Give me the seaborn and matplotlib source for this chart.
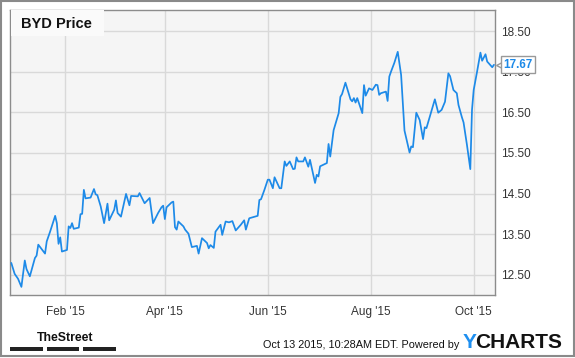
import matplotlib
matplotlib.use("Agg")
import matplotlib.pyplot as plt
import matplotlib.patches as mpatches
import matplotlib.ticker as mticker
import pandas as pd
import seaborn as sns

# ---------------- data ----------------
dates = [
    "2014-12-31", "2015-01-02", "2015-01-04", "2015-01-06", "2015-01-08", "2015-01-09",
    "2015-01-11", "2015-01-14", "2015-01-15", "2015-01-16", "2015-01-18", "2015-01-20",
    "2015-01-21", "2015-01-23", "2015-01-26", "2015-01-27", "2015-01-28", "2015-01-29",
    "2015-01-30", "2015-02-02", "2015-02-03", "2015-02-04", "2015-02-05", "2015-02-06",
    "2015-02-09", "2015-02-10", "2015-02-11", "2015-02-12", "2015-02-13", "2015-02-16",
    "2015-02-18", "2015-02-19", "2015-02-20", "2015-02-22", "2015-02-24", "2015-02-26",
    "2015-02-27", "2015-03-02", "2015-03-03", "2015-03-04", "2015-03-06", "2015-03-09",
    "2015-03-11", "2015-03-12", "2015-03-16", "2015-03-17", "2015-03-20", "2015-03-23",
    "2015-03-25", "2015-03-28", "2015-03-30", "2015-03-31", "2015-04-01", "2015-04-02",
    "2015-04-05", "2015-04-06", "2015-04-07", "2015-04-08", "2015-04-09", "2015-04-12",
    "2015-04-13", "2015-04-14", "2015-04-15", "2015-04-17", "2015-04-20", "2015-04-21",
    "2015-04-23", "2015-04-26", "2015-04-27", "2015-04-28", "2015-04-30", "2015-05-01",
    "2015-05-04", "2015-05-05", "2015-05-07", "2015-05-09", "2015-05-11", "2015-05-13",
    "2015-05-16", "2015-05-18", "2015-05-19", "2015-05-21", "2015-05-26", "2015-05-27",
    "2015-05-28", "2015-05-30", "2015-06-01", "2015-06-02", "2015-06-04", "2015-06-05",
    "2015-06-08", "2015-06-09", "2015-06-11", "2015-06-12", "2015-06-14", "2015-06-16",
    "2015-06-17", "2015-06-18", "2015-06-19", "2015-06-22", "2015-06-23", "2015-06-25",
    "2015-06-26", "2015-06-29", "2015-06-30", "2015-07-01", "2015-07-02", "2015-07-06",
    "2015-07-07", "2015-07-08", "2015-07-10", "2015-07-13", "2015-07-14", "2015-07-15",
    "2015-07-17", "2015-07-20", "2015-07-21", "2015-07-22", "2015-07-23", "2015-07-24",
    "2015-07-27", "2015-07-28", "2015-07-29", "2015-07-31", "2015-08-02", "2015-08-04",
    "2015-08-05", "2015-08-06", "2015-08-07", "2015-08-10", "2015-08-11", "2015-08-12",
    "2015-08-13", "2015-08-15", "2015-08-17", "2015-08-19", "2015-08-21", "2015-08-24",
    "2015-08-25", "2015-08-26", "2015-08-28", "2015-08-30", "2015-09-01", "2015-09-02",
    "2015-09-03", "2015-09-08", "2015-09-10", "2015-09-12", "2015-09-14", "2015-09-16",
    "2015-09-17", "2015-09-19", "2015-09-21", "2015-09-22", "2015-09-24", "2015-09-25",
    "2015-09-27", "2015-09-29", "2015-09-30", "2015-10-01", "2015-10-03", "2015-10-05",
    "2015-10-06", "2015-10-08", "2015-10-09", "2015-10-12", "2015-10-13",
]
prices = [
    12.79, 12.52, 12.40, 12.20, 12.85, 12.64,
    12.46, 12.91, 12.97, 13.24, 13.13, 13.02,
    13.32, 13.56, 13.95, 13.77, 13.26, 13.42,
    13.07, 13.11, 13.69, 13.65, 13.77, 13.63,
    13.66, 13.99, 14.00, 14.59, 14.38, 14.40,
    14.61, 14.48, 14.46, 14.18, 13.77, 14.25,
    13.84, 14.10, 14.33, 14.02, 13.93, 14.49,
    14.21, 14.44, 14.43, 14.51, 14.26, 14.39,
    13.77, 14.02, 14.16, 14.20, 13.87, 14.16,
    14.28, 14.30, 13.67, 13.61, 13.81, 13.69,
    13.61, 13.56, 13.51, 13.18, 13.21, 13.02,
    13.40, 13.28, 13.15, 13.23, 13.16, 13.56,
    13.73, 13.48, 13.81, 13.79, 13.82, 13.59,
    13.73, 13.84, 13.61, 13.89, 13.95, 14.34,
    14.36, 14.59, 14.84, 14.84, 14.63, 14.90,
    14.63, 14.63, 15.29, 15.18, 15.29, 15.10,
    15.11, 15.39, 15.29, 15.29, 15.39, 15.16,
    15.33, 14.76, 14.96, 14.92, 15.17, 15.25,
    15.72, 15.41, 16.06, 16.48, 16.88, 16.95,
    17.23, 16.82, 16.77, 16.85, 16.74, 16.85,
    16.48, 17.17, 16.91, 17.09, 17.05, 17.18,
    17.17, 16.93, 16.97, 17.01, 16.78, 17.38,
    17.50, 17.72, 17.99, 17.42, 16.05, 15.51,
    15.66, 15.64, 16.49, 16.31, 15.84, 16.13,
    16.11, 16.82, 16.49, 16.56, 16.76, 17.46,
    17.39, 17.05, 16.97, 16.68, 16.38, 16.25,
    15.70, 15.10, 16.56, 17.05, 17.50, 17.97,
    17.77, 17.93, 17.75, 17.61, 17.67,
]
ytick_values = [12.5, 13.5, 14.5, 15.5, 16.5, 17.5, 18.5]
xtick_dates = ["2015-02-01", "2015-04-01", "2015-06-01", "2015-08-01", "2015-10-01"]
xtick_labels = ["Feb '15", "Apr '15", "Jun '15", "Aug '15", "Oct '15"]
title = "BYD Price"
last_label = "17.67"
footer_text = "Oct 13 2015, 10:28AM EDT. Powered by"

# ---------------- style ----------------
sns.set_style("whitegrid")
plt.rcParams["font.family"] = ["Liberation Sans", "DejaVu Sans"]

LINE = "#1d8ae8"
GRID = "#d9d9d9"
SPINE = "#8c8c8c"
TXT = "#333333"

W, H = 575, 358
fig = plt.figure(figsize=(W / 100, H / 100), dpi=100)
fig.patch.set_facecolor("white")

def fx(px):
    return px / W

def fy(py):
    return 1 - py / H

L, R, T, B = 10.3, 494.5, 10.0, 295.0
ax = fig.add_axes([fx(L), fy(B), fx(R - L), (B - T) / H])
ax.set_facecolor("#f5f5f5")

df = pd.DataFrame({"date": pd.to_datetime(dates), "price": prices})
sns.lineplot(data=df, x="date", y="price", ax=ax, color=LINE, linewidth=1.25, zorder=3)

ax.set_xlim(pd.Timestamp("2014-12-30 10:00"), pd.Timestamp("2015-10-13 08:00"))
ax.set_ylim(12.0, 19.02)

ax.yaxis.tick_right()
ax.set_yticks(ytick_values)
ax.yaxis.set_major_formatter(mticker.FormatStrFormatter("%.2f"))
ax.set_xticks(pd.to_datetime(xtick_dates))
ax.set_xticklabels(xtick_labels)
ax.tick_params(axis="both", length=0, labelsize=8.5, labelcolor=TXT)
ax.tick_params(axis="x", pad=8)
ax.tick_params(axis="y", pad=4.5)
ax.set_xlabel("")
ax.set_ylabel("")
ax.grid(True, color=GRID, linewidth=1.0)
for s in ax.spines.values():
    s.set_visible(True)
    s.set_color(SPINE)
    s.set_linewidth(1.0)

# title box
fig.patches.append(mpatches.Rectangle((fx(L + 0.5), fy(36)), (103 - L) / W, 26 / H,
                                      transform=fig.transFigure, facecolor="#fafafa",
                                      edgecolor="none", zorder=5))
fig.text(fx(21.3), fy(28.3), title, fontsize=10.5, fontweight="bold", color="#111111",
         va="baseline", ha="left", zorder=6)

# last value callout (covers the 17.50 tick label, as in the original)
last_date = df["date"].iloc[-1]
last_price = df["price"].iloc[-1]
ax.plot([last_date], [last_price], marker="<", markersize=7, markerfacecolor="white",
        markeredgecolor="#999999", markeredgewidth=1.0, clip_on=False, zorder=8,
        transform=ax.transData + matplotlib.transforms.ScaledTranslation(5 / 72, 0, fig.dpi_scale_trans))
ax.annotate(last_label, xy=(last_date, last_price), xytext=(6.6, 0), textcoords="offset points",
            ha="left", va="center", fontsize=8.5, fontweight="bold", color=LINE,
            annotation_clip=False, zorder=9,
            bbox=dict(boxstyle="square,pad=0.22", facecolor="white", edgecolor="#999999",
                      linewidth=1.0))

# footer
fig.text(fx(36.5), fy(341), "TheStreet", fontsize=8.8, fontweight="bold", color="#111111",
         family=["Liberation Sans Narrow", "Liberation Sans", "DejaVu Sans"],
         ha="left", va="baseline")
for x0, x1 in [(10, 42.7), (46.7, 79.3), (83.3, 116)]:
    fig.patches.append(mpatches.Rectangle((fx(x0), fy(350.7)), (x1 - x0) / W, 3.4 / H,
                                          transform=fig.transFigure, facecolor="#222222",
                                          edgecolor="none"))
fig.text(fx(459), fy(348.5), footer_text, fontsize=7.8, color="#111111",
         ha="right", va="baseline")
fig.text(fx(463), fy(348.3), "Y", fontsize=15, fontweight="bold", color="#1e8ff0",
         ha="left", va="baseline")
fig.text(fx(475.5), fy(348.3), "CHARTS", fontsize=15, fontweight="bold", color="#121212",
         ha="left", va="baseline")

# outer border
fig.patches.append(mpatches.Rectangle((fx(1), fy(355.5)), 572.5 / W, 354.5 / H,
                                      transform=fig.transFigure, facecolor="none",
                                      edgecolor="#8a8a8a", linewidth=1.5))

fig.savefig("out.png", dpi=100, facecolor="white")
